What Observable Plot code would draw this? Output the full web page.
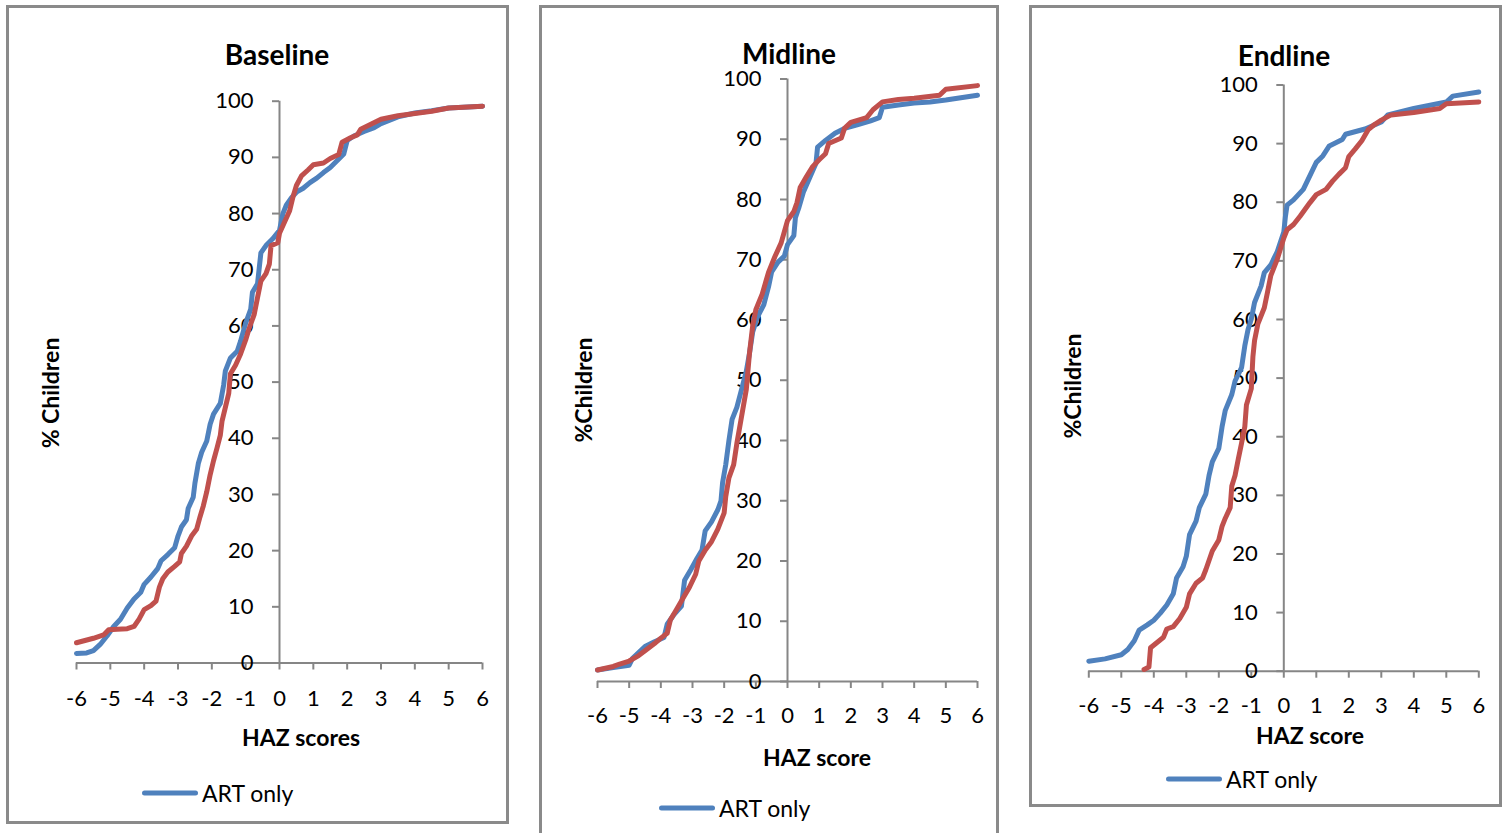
<!DOCTYPE html>
<html>
<head>
<meta charset="utf-8">
<script src="https://cdn.jsdelivr.net/npm/d3@7"></script>
<script src="https://cdn.jsdelivr.net/npm/@observablehq/plot@0.6"></script>
<style>
  html, body { margin: 0; padding: 0; background: #fff; }
  #root { position: relative; width: 1507px; height: 833px; overflow: hidden; background: #fff; font-family: Lato, "Open Sans", sans-serif; color: #000; }
  .panel { position: absolute; box-sizing: border-box; border: 3px solid #8a8a8a; background: #fff; }
  .plotbox { position: absolute; }
  .t { position: absolute; white-space: nowrap; line-height: 0.8; transform: translate(-50%, -50%); }
  .title { font-weight: 700; font-size: 28px; }
  .axt { font-weight: 700; font-size: 23px; }
  .yaxt { font-weight: 700; font-size: 23px; transform: translate(-50%, -50%) rotate(-90deg); }
  .legend { position: absolute; display: flex; align-items: center; font-size: 23px; line-height: 1; transform: translateY(-50%); white-space: nowrap; }
  .legend .sw { display: inline-block; width: 56px; height: 5px; border-radius: 3px; margin-right: 4px; }
</style>
</head>
<body>
<div id="root"></div>
<script>
// ---------- data ----------
const panelTitles = ["Baseline", "Midline", "Endline"];
const xAxisTitles = ["HAZ scores", "HAZ score", "HAZ score"];
const yAxisTitles = ["% Children", "%Children", "%Children"];
const legendLabel = "ART only";
const xTicks = [-6, -5, -4, -3, -2, -1, 0, 1, 2, 3, 4, 5, 6];
const yTicks = [0, 10, 20, 30, 40, 50, 60, 70, 80, 90, 100];

// Baseline – ART only (blue)
const baselineArtX = [-6,-5.7,-5.5,-5.3,-5.1,-4.9,-4.7,-4.5,-4.3,-4.1,-4.0,-3.8,-3.6,-3.5,-3.3,-3.1,-3.0,-2.9,-2.75,-2.7,-2.55,-2.5,-2.4,-2.3,-2.15,-2.05,-1.95,-1.75,-1.65,-1.6,-1.45,-1.25,-1.15,-1.0,-0.85,-0.8,-0.65,-0.55,-0.4,-0.2,0.0,0.1,0.2,0.35,0.5,0.7,0.9,1.1,1.3,1.5,1.7,1.9,2.0,2.2,2.5,2.8,3.0,3.5,4.0,4.5,5.0,6.0];
const baselineArtY = [1.7,1.8,2.2,3.3,4.8,6.5,7.8,9.8,11.4,12.6,14.0,15.3,16.8,18.2,19.3,20.5,22.6,24.2,25.5,27.5,29.5,32.0,35.5,37.5,39.5,42.5,44.3,46.2,49.5,52.0,54.3,55.5,57.3,60.5,63.0,66.0,67.5,73.0,74.3,75.5,77.0,80.0,81.5,82.8,83.8,84.5,85.5,86.3,87.3,88.2,89.4,90.6,93.0,93.8,94.6,95.3,96.0,97.2,97.9,98.3,98.8,99.1];
// Baseline – second group (red)
const baselineOtherX = [-6,-5.5,-5.2,-5.05,-4.8,-4.5,-4.3,-4.15,-4.0,-3.8,-3.65,-3.55,-3.45,-3.3,-3.1,-2.95,-2.9,-2.75,-2.6,-2.45,-2.35,-2.25,-2.15,-2.05,-1.95,-1.85,-1.75,-1.7,-1.6,-1.5,-1.45,-1.3,-1.15,-1.0,-0.9,-0.75,-0.65,-0.55,-0.4,-0.3,-0.25,-0.05,0.0,0.15,0.3,0.4,0.5,0.65,0.85,1.0,1.3,1.5,1.75,1.85,2.1,2.3,2.4,2.7,3.0,3.5,4.0,4.5,5.0,6.0];
const baselineOtherY = [3.6,4.4,5.0,5.9,6.0,6.1,6.5,7.8,9.5,10.2,11.0,13.5,15.0,16.2,17.2,18.0,19.5,20.8,22.6,23.8,26.0,28.0,30.5,33.5,36.0,38.2,40.5,43.0,45.5,48.0,51.5,53.0,55.0,57.5,59.5,62.0,65.0,68.0,69.3,71.0,74.3,74.8,76.5,78.5,80.5,83.0,85.0,86.7,87.8,88.7,89.0,89.8,90.5,92.7,93.5,94.0,95.0,95.9,96.8,97.4,97.8,98.2,98.8,99.1];

// Midline – ART only (blue)
const midlineArtX = [-6,-5.5,-5.0,-4.9,-4.7,-4.5,-4.2,-3.9,-3.8,-3.6,-3.35,-3.25,-3.05,-2.85,-2.7,-2.6,-2.4,-2.2,-2.1,-2.05,-1.95,-1.85,-1.75,-1.6,-1.45,-1.3,-1.2,-1.1,-0.95,-0.75,-0.6,-0.5,-0.3,-0.1,0.0,0.2,0.25,0.35,0.5,0.7,0.9,0.95,1.2,1.5,1.8,2.2,2.6,2.9,3.0,3.5,4.0,4.5,5.0,6.0];
const midlineArtY = [1.9,2.3,2.7,3.8,4.8,5.8,6.6,7.3,9.5,11.0,12.5,16.8,18.6,20.5,21.8,25.0,26.5,28.5,30.0,33.0,36.0,40.0,43.5,45.5,48.5,51.5,54.5,58.0,60.5,62.5,65.5,68.0,69.6,70.6,72.5,74.0,77.0,78.5,81.2,83.6,86.0,88.7,89.8,91.0,91.8,92.4,93.0,93.6,95.3,95.7,96.0,96.2,96.5,97.3];
// Midline – second group (red)
const midlineOtherX = [-6,-5.5,-5.3,-5.0,-4.7,-4.5,-4.2,-4.0,-3.8,-3.7,-3.5,-3.3,-3.1,-2.9,-2.8,-2.6,-2.4,-2.2,-2.0,-1.95,-1.85,-1.7,-1.6,-1.45,-1.3,-1.2,-1.1,-1.0,-0.8,-0.6,-0.4,-0.2,0.0,0.2,0.3,0.4,0.6,0.8,1.0,1.2,1.3,1.7,1.8,2.0,2.5,2.7,3.0,3.5,4.0,4.8,5.0,6.0];
const midlineOtherY = [1.9,2.5,2.9,3.4,4.3,5.1,6.3,7.2,8.0,10.2,12.0,13.8,15.6,17.8,20.0,21.8,23.2,25.3,28.0,30.7,33.8,36.0,39.5,44.0,48.5,54.5,59.0,61.7,64.3,67.9,70.5,72.8,76.5,78.0,79.5,82.0,83.8,85.5,86.6,87.6,89.3,90.2,91.8,92.8,93.6,94.9,96.2,96.6,96.8,97.3,98.3,98.9];

// Endline – ART only (blue)
const endlineArtX = [-6,-5.5,-5.0,-4.8,-4.6,-4.45,-4.2,-4.0,-3.8,-3.6,-3.4,-3.3,-3.1,-3.0,-2.9,-2.7,-2.6,-2.4,-2.3,-2.2,-2.0,-1.9,-1.8,-1.6,-1.5,-1.3,-1.2,-1.1,-1.0,-0.9,-0.7,-0.6,-0.4,-0.2,0.0,0.05,0.1,0.3,0.6,0.8,1.0,1.2,1.4,1.8,1.9,2.5,3.0,3.2,4.0,5.0,5.2,6.0];
const endlineArtY = [1.7,2.1,2.8,3.7,5.2,7.0,7.9,8.7,9.9,11.3,13.2,15.9,17.8,19.6,23.3,25.6,27.9,30.2,33.4,35.7,38.0,41.7,44.5,47.2,49.5,51.8,55.5,58.3,60.1,62.9,65.7,68.0,69.3,71.6,74.9,77.6,79.5,80.4,82.2,84.5,86.8,87.9,89.6,90.7,91.6,92.5,93.7,94.9,96.0,97.1,98.1,98.8];
// Endline – second group (red)
const endlineOtherX = [-4.3,-4.15,-4.1,-3.9,-3.7,-3.6,-3.4,-3.2,-3.0,-2.9,-2.7,-2.5,-2.4,-2.2,-2.0,-1.9,-1.8,-1.65,-1.6,-1.5,-1.4,-1.3,-1.2,-1.15,-1.0,-0.95,-0.9,-0.8,-0.6,-0.5,-0.4,-0.2,0.0,0.1,0.3,0.5,0.8,1.0,1.3,1.5,1.7,1.9,2.0,2.2,2.4,2.6,2.8,3.0,3.3,4.0,4.8,5.0,6.0];
const endlineOtherY = [0.3,0.7,4.0,4.9,5.8,7.2,7.6,9.0,10.9,13.2,15.0,15.9,17.3,20.5,22.4,24.7,26.1,27.9,31.6,33.4,36.2,38.9,41.7,45.4,48.2,53.7,56.4,59.2,62.0,64.7,67.5,70.3,73.9,75.3,76.2,77.6,79.9,81.3,82.2,83.6,84.8,85.9,87.8,89.1,90.5,92.4,93.3,94.0,94.9,95.3,96.0,96.8,97.1];

// ---------- layout ----------
const BLUE = "#4F81BD", RED = "#C0504D", AXIS = "#868686";
const panels = [
  { title: 0, border: [6, 5, 503, 819],
    svg: [10, 10, 495, 810], m: [90.7, 23, 157.5, 66], pad: 20,
    artX: baselineArtX, artY: baselineArtY, othX: baselineOtherX, othY: baselineOtherY,
    titlePos: [277, 54.3], xtPos: [301, 737], ytPos: [50, 393], legPos: [142, 793] },
  { title: 1, border: [539, 5, 460, 840],
    svg: [543, 10, 452, 823], m: [68.5, 18, 152, 54], pad: 19,
    artX: midlineArtX, artY: midlineArtY, othX: midlineOtherX, othY: midlineOtherY,
    titlePos: [789, 52.5], xtPos: [817, 757], ytPos: [583, 390], legPos: [659, 808] },
  { title: 2, border: [1029, 5, 473, 802],
    svg: [1033, 10, 464, 793], m: [74.5, 18.7, 132.3, 55.3], pad: 19,
    artX: endlineArtX, artY: endlineArtY, othX: endlineOtherX, othY: endlineOtherY,
    titlePos: [1284, 54.5], xtPos: [1310, 735], ytPos: [1072, 386], legPos: [1166, 779] }
];

const root = document.getElementById("root");

function el(tag, cls, text, styles) {
  const e = document.createElement(tag);
  if (cls) e.className = cls;
  if (text != null) e.textContent = text;
  Object.assign(e.style, styles || {});
  root.appendChild(e);
  return e;
}

panels.forEach(p => {
  const [bl, bt, bw, bh] = p.border;
  el("div", "panel", null, { left: bl + "px", top: bt + "px", width: bw + "px", height: bh + "px" });

  const art = p.artX.map((x, i) => ({ x, y: p.artY[i] }));
  const oth = p.othX.map((x, i) => ({ x, y: p.othY[i] }));
  const [sl, st, sw, sh] = p.svg;
  const [mt, mr, mb, ml] = p.m;

  const chart = Plot.plot({
    width: sw, height: sh,
    marginTop: mt, marginRight: mr, marginBottom: mb, marginLeft: ml,
    x: { domain: [-6, 6] },
    y: { domain: [0, 100] },
    style: { fontFamily: "Lato, 'Open Sans', sans-serif", fontSize: "22px", color: "#000", background: "transparent", overflow: "visible" },
    marks: [
      Plot.ruleY([0], { stroke: AXIS, strokeWidth: 2 }),
      Plot.ruleX([0], { stroke: AXIS, strokeWidth: 2 }),
      Plot.axisX({ ticks: xTicks, tickSize: 7, tickPadding: p.pad, stroke: AXIS, strokeWidth: 2, fill: "#000", tickFormat: d => String(d), label: null }),
      Plot.axisY({ x: 0, anchor: "left", ticks: yTicks, tickSize: 7, tickPadding: 19, stroke: AXIS, strokeWidth: 2, fill: "#000", tickFormat: d => String(d), label: null }),
      Plot.line(art, { x: "x", y: "y", stroke: BLUE, strokeWidth: 5, strokeLinejoin: "round", strokeLinecap: "round" }),
      Plot.line(oth, { x: "x", y: "y", stroke: RED, strokeWidth: 5, strokeLinejoin: "round", strokeLinecap: "round" })
    ]
  });
  const box = el("div", "plotbox", null, { left: sl + "px", top: st + "px", width: sw + "px", height: sh + "px" });
  box.appendChild(chart);

  el("div", "t title", panelTitles[p.title], { left: p.titlePos[0] + "px", top: p.titlePos[1] + "px" });
  el("div", "t axt", xAxisTitles[p.title], { left: p.xtPos[0] + "px", top: p.xtPos[1] + "px" });
  el("div", "t yaxt", yAxisTitles[p.title], { left: p.ytPos[0] + "px", top: p.ytPos[1] + "px" });

  const leg = el("div", "legend", null, { left: p.legPos[0] + "px", top: p.legPos[1] + "px" });
  const sw2 = document.createElement("span");
  sw2.className = "sw";
  sw2.style.background = BLUE;
  leg.appendChild(sw2);
  const lt = document.createElement("span");
  lt.textContent = legendLabel;
  leg.appendChild(lt);
});
</script>
</body>
</html>
